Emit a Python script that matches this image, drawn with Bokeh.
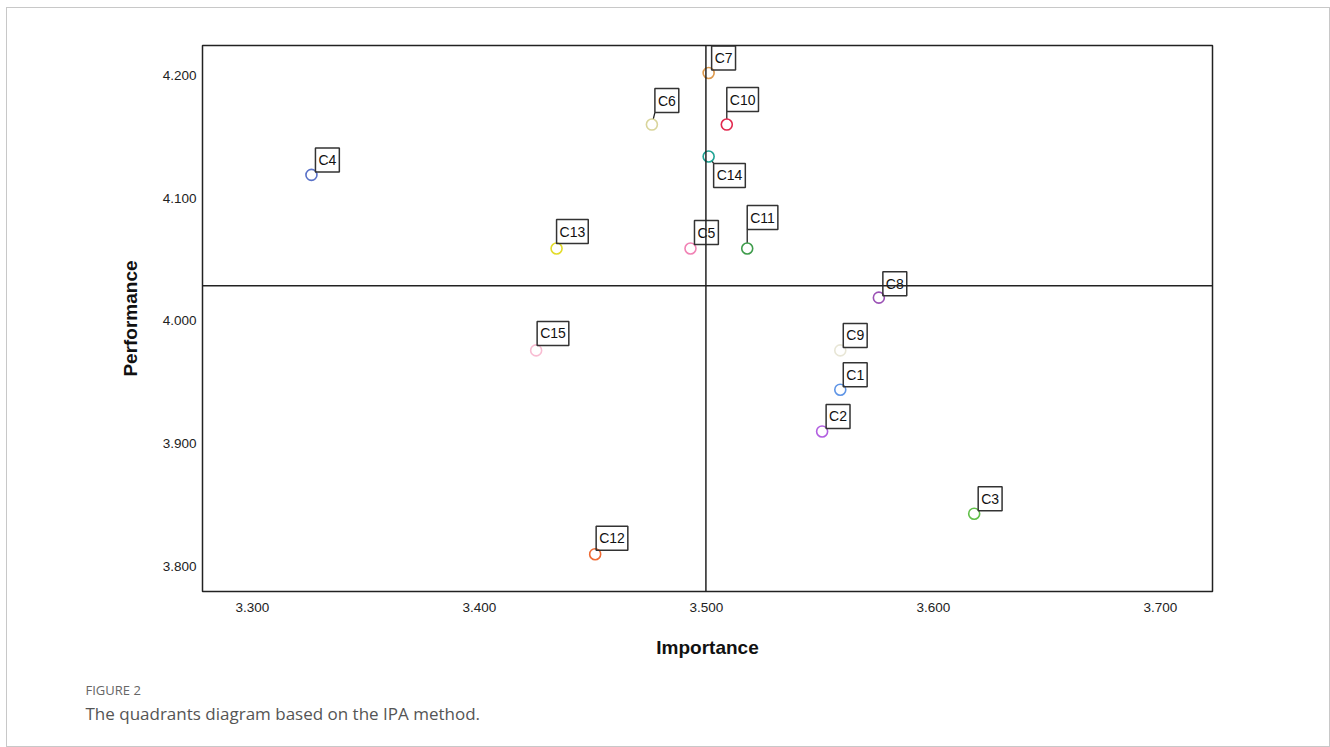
import math
from bokeh.plotting import figure
from bokeh.models import ColumnDataSource, Span, FixedTicker, NumeralTickFormatter, Title, Range1d
from bokeh.core.properties import value
from bokeh.embed import file_html
from bokeh.resources import INLINE

# ---- data ----
labels = ["C1", "C2", "C3", "C4", "C5", "C6", "C7", "C8", "C9", "C10",
          "C11", "C12", "C13", "C14", "C15"]
importance = [3.559, 3.551, 3.618, 3.326, 3.493, 3.476, 3.501, 3.576, 3.559, 3.509,
              3.518, 3.451, 3.434, 3.501, 3.425]
performance = [3.944, 3.910, 3.843, 4.119, 4.059, 4.160, 4.202, 4.019, 3.976, 4.160,
               4.059, 3.810, 4.059, 4.134, 3.976]
x_ticks = [3.3, 3.4, 3.5, 3.6, 3.7]
y_ticks = [3.8, 3.9, 4.0, 4.1, 4.2]

# ---- styles ----
colors = ["#5f95e6", "#b25fe0", "#62c04a", "#5a72c8", "#f183b5", "#d9d59c", "#dd9a4e",
          "#9b52b5", "#e8e6d6", "#e2284e", "#3f9c4c", "#ef6a33", "#e3dc2a", "#1fa394", "#f8bcd2"]
# label box offsets in pixels (right, up) and anchors
label_dx = [3, 4, 4, 4, 4, 3, 3, 4, 3, 0, 0, 1, 0, 5, 1]
label_up = [3, 3, 3, 3, 4, 12, 3, 2, 3, 13, 19, 4, 5, -7, 5]
anchors = ["bottom_left"] * 13 + ["top_left", "bottom_left"]

X0, X1 = 3.278, 3.723
Y0, Y1 = 3.7796, 4.2244
FW, FH = 1010, 546

p = figure(width=1324, height=740, frame_width=FW, frame_height=FH,
           x_range=Range1d(X0, X1), y_range=Range1d(Y0, Y1),
           output_backend="svg", toolbar_location=None,
           min_border_left=195, min_border_top=37, min_border_right=117, min_border_bottom=155)
p.styles = {"border": "1px solid #c8c8c8", "box-sizing": "border-box",
            "margin-left": "6px", "margin-top": "7px"}
p.grid.visible = False
p.outline_line_color = "#222222"
p.outline_line_width = 1.5
p.background_fill_color = "white"
p.border_fill_color = "white"

for ax in (p.xaxis[0], p.yaxis[0]):
    ax.axis_line_color = None
    ax.major_tick_line_color = None
    ax.minor_tick_line_color = None
    ax.major_tick_in = 0
    ax.major_tick_out = 0
    ax.major_label_text_font = "Liberation Sans"
    ax.major_label_text_font_size = "13.5px"
    ax.major_label_text_color = "#222222"
    ax.axis_label_text_font = "Liberation Sans"
    ax.axis_label_text_font_style = "bold"
    ax.axis_label_text_font_size = "19px"
    ax.axis_label_text_color = "#111111"
    ax.formatter = NumeralTickFormatter(format="0.000")

p.xaxis.ticker = FixedTicker(ticks=x_ticks)
p.yaxis.ticker = FixedTicker(ticks=y_ticks)
p.xaxis.axis_label = "Importance"
p.yaxis.axis_label = "Performance"
p.xaxis.major_label_standoff = 11
p.yaxis.major_label_standoff = 6
p.xaxis.axis_label_standoff = 22
p.yaxis.axis_label_standoff = 19

# mean reference lines
imp_mean = sum(importance) / len(importance)
perf_mean = sum(performance) / len(performance)
p.add_layout(Span(location=imp_mean, dimension="height", line_color="#222222", line_width=1.5))
p.add_layout(Span(location=perf_mean, dimension="width", line_color="#222222", line_width=1.5))

# leader lines (pixel offsets converted to data units)
sx = FW / (X1 - X0)
sy = FH / (Y1 - Y0)
r = 5.5
lx0, ly0, lx1, ly1 = [], [], [], []
for xi, yi, dx, up in zip(importance, performance, label_dx, label_up):
    L = math.hypot(dx, up)
    if L > r + 0.5:
        ux, uy = dx / L, up / L
        lx0.append(xi + r * ux / sx)
        ly0.append(yi + r * uy / sy)
        lx1.append(xi + dx / sx)
        ly1.append(yi + up / sy)
p.segment(lx0, ly0, lx1, ly1, line_color="#222222", line_width=1.3)

src = ColumnDataSource(dict(x=importance, y=performance, lab=labels, c=colors,
                            dx=label_dx, dy=[-u for u in label_up], anc=anchors))
p.scatter("x", "y", source=src, size=11, fill_color=None, line_color="c", line_width=1.6)

p.text("x", "y", text="lab", source=src, x_offset="dx", y_offset="dy", anchor="anc",
       text_font=value("Liberation Sans"), text_font_size="14px", text_color="#111111",
       border_line_color="#333333", border_line_width=1.5, background_fill_color=None,
       padding=(3, 4))

# caption as titles below the plot (first one is an empty spacer)
p.add_layout(Title(text=" ", standoff=15, text_font_size="1px"), "below")
p.add_layout(Title(text="FIGURE 2", align="left", offset=-117, standoff=1,
                   text_font="Open Sans", text_font_size="13px", text_font_style="normal",
                   text_color="#666666"), "below")
p.add_layout(Title(text="The quadrants diagram based on the IPA method.", align="left",
                   offset=-117, standoff=0,
                   text_font="Open Sans", text_font_size="17px", text_font_style="normal",
                   text_color="#555555"), "below")

open("out.html", "w").write(file_html(p, INLINE))
